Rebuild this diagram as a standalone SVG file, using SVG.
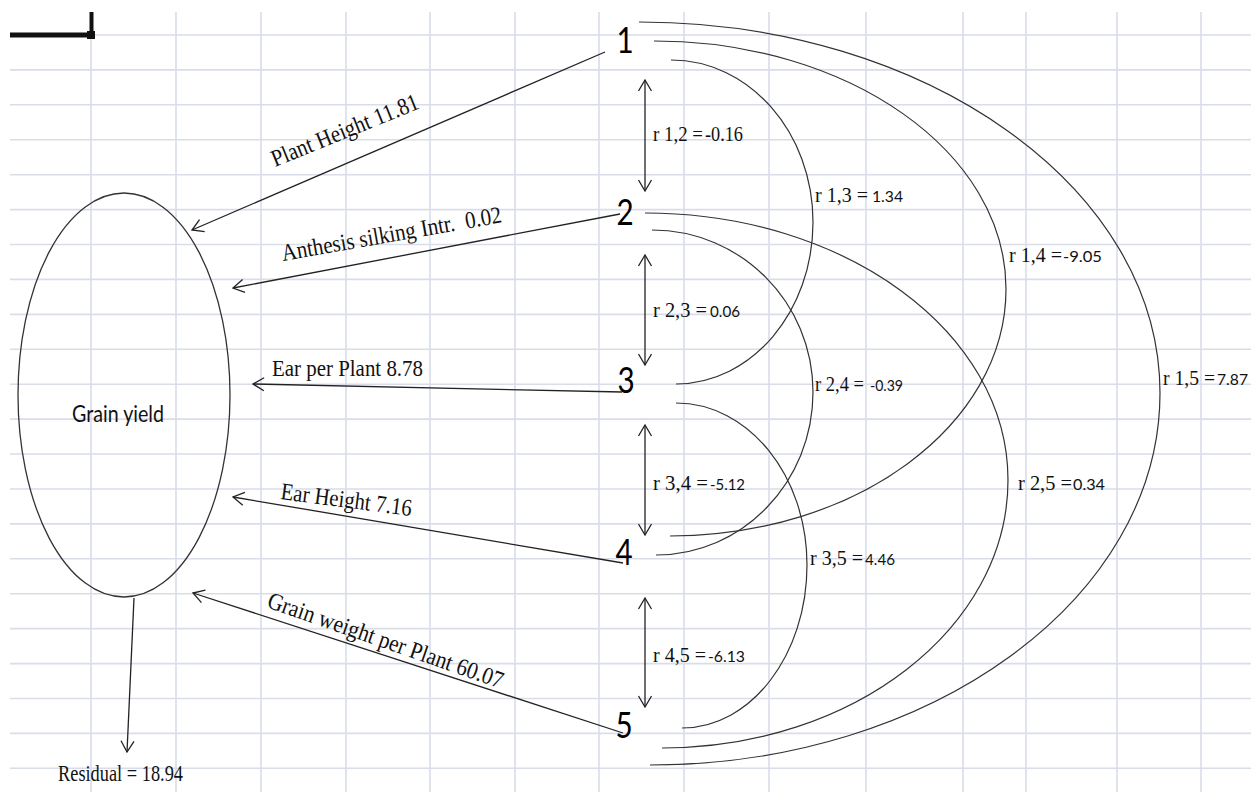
<svg xmlns="http://www.w3.org/2000/svg" width="1251" height="792" viewBox="0 0 1251 792">
  <style>
    .grid line { stroke: #d9dde9; stroke-width: 1.6; }
    .edge { fill: none; stroke: #222; stroke-width: 1.3; }
    .arc { fill: none; stroke: #333; stroke-width: 1.2; }
    .serif { font-family: "Liberation Serif", "Times New Roman", serif; fill: #111; }
    .sans { font-family: Lato, "Open Sans", "Liberation Sans", sans-serif; fill: #111; }
    .num { font-family: Lato, "Open Sans", "Liberation Sans", sans-serif; font-size: 37px; fill: #000; text-anchor: middle; }
  </style>
  <defs>
    <marker id="ah" markerUnits="userSpaceOnUse" viewBox="0 0 14 14" markerWidth="14" markerHeight="14" refX="12" refY="7" orient="auto-start-reverse" overflow="visible">
      <path d="M1,0.5 L12,7 L1,13.5" fill="none" stroke="#222" stroke-width="1.3"/>
    </marker>
  </defs>

  <rect width="1251" height="792" fill="#fff"/>

  <!-- spreadsheet grid -->
  <g class="grid">
    <line x1="91" y1="12" x2="91" y2="792"/>
    <line x1="176" y1="12" x2="176" y2="792"/>
    <line x1="261" y1="12" x2="261" y2="792"/>
    <line x1="346" y1="12" x2="346" y2="792"/>
    <line x1="430" y1="12" x2="430" y2="792"/>
    <line x1="515" y1="12" x2="515" y2="792"/>
    <line x1="599" y1="12" x2="599" y2="792"/>
    <line x1="684" y1="12" x2="684" y2="792"/>
    <line x1="769" y1="12" x2="769" y2="792"/>
    <line x1="866" y1="12" x2="866" y2="792"/>
    <line x1="963" y1="12" x2="963" y2="792"/>
    <line x1="1026" y1="12" x2="1026" y2="792"/>
    <line x1="1117" y1="12" x2="1117" y2="792"/>
    <line x1="1201" y1="12" x2="1201" y2="792"/>
    <line x1="10" y1="35" x2="1251" y2="35"/>
    <line x1="10" y1="69.9" x2="1251" y2="69.9"/>
    <line x1="10" y1="104.8" x2="1251" y2="104.8"/>
    <line x1="10" y1="139.8" x2="1251" y2="139.8"/>
    <line x1="10" y1="174.7" x2="1251" y2="174.7"/>
    <line x1="10" y1="209.6" x2="1251" y2="209.6"/>
    <line x1="10" y1="244.5" x2="1251" y2="244.5"/>
    <line x1="10" y1="279.4" x2="1251" y2="279.4"/>
    <line x1="10" y1="314.4" x2="1251" y2="314.4"/>
    <line x1="10" y1="349.3" x2="1251" y2="349.3"/>
    <line x1="10" y1="384.2" x2="1251" y2="384.2"/>
    <line x1="10" y1="419.1" x2="1251" y2="419.1"/>
    <line x1="10" y1="454" x2="1251" y2="454"/>
    <line x1="10" y1="489" x2="1251" y2="489"/>
    <line x1="10" y1="523.9" x2="1251" y2="523.9"/>
    <line x1="10" y1="558.8" x2="1251" y2="558.8"/>
    <line x1="10" y1="593.7" x2="1251" y2="593.7"/>
    <line x1="10" y1="628.6" x2="1251" y2="628.6"/>
    <line x1="10" y1="663.6" x2="1251" y2="663.6"/>
    <line x1="10" y1="698.5" x2="1251" y2="698.5"/>
    <line x1="10" y1="733.4" x2="1251" y2="733.4"/>
    <line x1="10" y1="768.3" x2="1251" y2="768.3"/>
  </g>

  <!-- selected-cell corner marker -->
  <g id="cell-cursor" fill="#111">
    <rect x="10" y="32.5" width="80" height="5"/>
    <rect x="89.5" y="12" width="4" height="22"/>
    <rect x="87" y="31" width="8" height="8"/>
  </g>

  <!-- outcome node -->
  <g id="grain-yield">
    <ellipse cx="124" cy="395" rx="106" ry="202" fill="none" stroke="#333" stroke-width="1.3"/>
    <text class="sans" x="72" y="422" font-size="23" textLength="92" lengthAdjust="spacingAndGlyphs">Grain yield</text>
  </g>

  <!-- trait nodes -->
  <g id="n1"><text class="num" transform="translate(625,53) scale(0.8,1)">1</text></g>
  <g id="n2"><text class="num" transform="translate(625,225) scale(0.8,1)">2</text></g>
  <g id="n3"><text class="num" transform="translate(626,393) scale(0.8,1)">3</text></g>
  <g id="n4"><text class="num" transform="translate(624,565) scale(0.8,1)">4</text></g>
  <g id="n5"><text class="num" transform="translate(624,738) scale(0.8,1)">5</text></g>

  <g id="residual">
    <text class="serif" x="58" y="781" font-size="23" textLength="125" lengthAdjust="spacingAndGlyphs">Residual = 18.94</text>
  </g>

  <!-- connectors -->
  <g id="connectors">
    <!-- direct paths to grain yield -->
    <path class="edge" d="M605,52 L192,230" marker-end="url(#ah)"/>
    <path class="edge" d="M620,214 L233,288" marker-end="url(#ah)"/>
    <path class="edge" d="M622,392 L253,384" marker-end="url(#ah)"/>
    <path class="edge" d="M623,563 L233,497" marker-end="url(#ah)"/>
    <path class="edge" d="M623,733 L193,593" marker-end="url(#ah)"/>
    <path class="edge" d="M134,598 L127,752" marker-end="url(#ah)"/>

    <!-- neighbour correlations -->
    <path class="edge" d="M645,80 L645,191" marker-start="url(#ah)" marker-end="url(#ah)"/>
    <path class="edge" d="M645,255 L645,365" marker-start="url(#ah)" marker-end="url(#ah)"/>
    <path class="edge" d="M645,425 L645,535" marker-start="url(#ah)" marker-end="url(#ah)"/>
    <path class="edge" d="M645,598 L645,707" marker-start="url(#ah)" marker-end="url(#ah)"/>

    <!-- longer-range correlations -->
    <path class="arc" d="M671,60 C749.4,60 813,132.5 813,222 C813,311.5 751.7,384 676,384"/>
    <path class="arc" d="M654,41 C848.4,41 1006,152 1006,289 C1006,425.4 855.6,536 670,536"/>
    <path class="arc" d="M639,22 C926.7,22 1160,188.1 1160,393 C1160,598.5 931.7,765 650,765"/>
    <path class="arc" d="M652,230 C740.9,230 813,302.5 813,392 C813,482 742.7,555 656,555"/>
    <path class="arc" d="M645,213 C845.5,213 1008,332.5 1008,480 C1008,628 853.1,748 662,748"/>
    <path class="arc" d="M676,403 C748.4,403 807,475.5 807,565 C807,655 751,728 682,728"/>
  </g>

  <!-- path coefficient labels -->
  <g id="path-labels" class="serif" font-size="24">
    <text transform="translate(275,167) rotate(-22)" textLength="157" lengthAdjust="spacingAndGlyphs">Plant Height 11.81</text>
    <text transform="translate(283,261) rotate(-10)" textLength="223" lengthAdjust="spacingAndGlyphs">Anthesis silking Intr.&#160; 0.02</text>
    <text x="272" y="376" textLength="151" lengthAdjust="spacingAndGlyphs">Ear per Plant 8.78</text>
    <text transform="translate(280,499) rotate(7.4)" textLength="132" lengthAdjust="spacingAndGlyphs">Ear Height 7.16</text>
    <text transform="translate(266,607) rotate(19.2)" textLength="248" lengthAdjust="spacingAndGlyphs">Grain weight per Plant 60.07</text>
  </g>

  <!-- correlation labels -->
  <g id="corr-labels">
    <text class="serif" x="653" y="141" font-size="21" textLength="50" lengthAdjust="spacingAndGlyphs">r 1,2 =</text>
    <text class="serif" x="705" y="141" font-size="20" textLength="38" lengthAdjust="spacingAndGlyphs">-0.16</text>

    <text class="serif" x="653" y="317" font-size="21" textLength="54" lengthAdjust="spacingAndGlyphs">r 2,3 =</text>
    <text class="sans" x="710" y="317" font-size="15" textLength="30" lengthAdjust="spacingAndGlyphs">0.06</text>

    <text class="serif" x="653" y="490" font-size="21" textLength="55" lengthAdjust="spacingAndGlyphs">r 3,4 =</text>
    <text class="sans" x="710" y="490" font-size="15" textLength="35" lengthAdjust="spacingAndGlyphs">-5.12</text>

    <text class="serif" x="653" y="662" font-size="21" textLength="53" lengthAdjust="spacingAndGlyphs">r 4,5 =</text>
    <text class="sans" x="708" y="662" font-size="15" textLength="37" lengthAdjust="spacingAndGlyphs">-6.13</text>

    <text class="serif" x="815" y="202" font-size="21" textLength="53" lengthAdjust="spacingAndGlyphs">r 1,3 =</text>
    <text class="sans" x="872" y="202" font-size="15" textLength="31" lengthAdjust="spacingAndGlyphs">1.34</text>

    <text class="serif" x="815" y="391" font-size="21" textLength="49" lengthAdjust="spacingAndGlyphs">r 2,4 =</text>
    <text class="sans" x="870" y="391" font-size="15" textLength="33" lengthAdjust="spacingAndGlyphs">-0.39</text>

    <text class="serif" x="810" y="565" font-size="21" textLength="53" lengthAdjust="spacingAndGlyphs">r 3,5 =</text>
    <text class="sans" x="865" y="565" font-size="15" textLength="30" lengthAdjust="spacingAndGlyphs">4.46</text>

    <text class="serif" x="1009" y="262" font-size="21" textLength="53" lengthAdjust="spacingAndGlyphs">r 1,4 =</text>
    <text class="sans" x="1063" y="262" font-size="15" textLength="39" lengthAdjust="spacingAndGlyphs">-9.05</text>

    <text class="serif" x="1018" y="490" font-size="21" textLength="54" lengthAdjust="spacingAndGlyphs">r 2,5 =</text>
    <text class="sans" x="1073" y="490" font-size="15" textLength="32" lengthAdjust="spacingAndGlyphs">0.34</text>

    <text class="serif" x="1163" y="385" font-size="21" textLength="52" lengthAdjust="spacingAndGlyphs">r 1,5 =</text>
    <text class="sans" x="1217" y="385" font-size="15" textLength="31" lengthAdjust="spacingAndGlyphs">7.87</text>
  </g>
</svg>
